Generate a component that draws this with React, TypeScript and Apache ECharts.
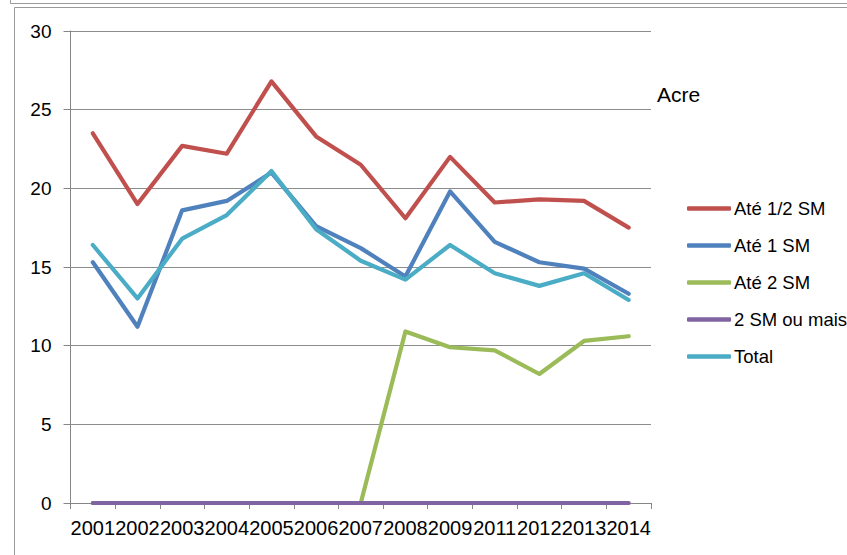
import React, { useEffect, useRef } from "react";
import * as echarts from "echarts";

const years = ["2001", "2002", "2003", "2004", "2005", "2006", "2007", "2008", "2009", "2011", "2012", "2013", "2014"];
const ateMeioSM = [23.5, 19.0, 22.7, 22.2, 26.8, 23.3, 21.5, 18.1, 22.0, 19.1, 19.3, 19.2, 17.5];
const ate1SM = [15.3, 11.2, 18.6, 19.2, 21.0, 17.6, 16.2, 14.4, 19.8, 16.6, 15.3, 14.9, 13.3];
const ate2SM = [0, 0, 0, 0, 0, 0, 0, 10.9, 9.9, 9.7, 8.2, 10.3, 10.6];
const doisSMouMais = [0, 0, 0, 0, 0, 0, 0, 0, 0, 0, 0, 0, 0];
const total = [16.4, 13.0, 16.8, 18.3, 21.1, 17.4, 15.4, 14.2, 16.4, 14.6, 13.8, 14.6, 12.9];

const seriesNames = ["Até 1/2 SM", "Até 1 SM", "Até 2 SM", "2 SM ou mais", "Total"];
const seriesColors = ["#C0504D", "#4F81BD", "#9BBB59", "#8064A2", "#4BACC6"];
const seriesData = [ateMeioSM, ate1SM, ate2SM, doisSMouMais, total];

const FONT = "'Liberation Sans', Arial, sans-serif";

export default function App() {
  const ref = useRef<HTMLDivElement>(null);
  useEffect(() => {
    if (!ref.current) return;
    const chart = echarts.init(ref.current, null, { renderer: "svg" });
    chart.setOption({
      animation: false,
      backgroundColor: "#ffffff",
      title: {
        text: "Acre",
        left: 652,
        top: 79,
        textStyle: { fontFamily: FONT, fontSize: 21, fontWeight: "normal", color: "#000" },
      },
      legend: {
        orient: "vertical",
        left: 682,
        top: 194,
        itemWidth: 44,
        itemHeight: 4.5,
        itemGap: 18,
        icon: "roundRect",
        textStyle: { fontFamily: FONT, fontSize: 18.5, color: "#000", padding: [0, 0, 0, -2] },
        data: seriesNames,
      },
      grid: { left: 70.5, right: 196, top: 31, bottom: 52, containLabel: false },
      xAxis: {
        type: "category",
        data: years,
        boundaryGap: true,
        axisLine: { show: true, lineStyle: { color: "#868686", width: 1 } },
        axisTick: { show: true, length: 6, interval: 0, lineStyle: { color: "#868686" } },
        axisLabel: { interval: 0, margin: 15, fontFamily: FONT, fontSize: 20, color: "#000" },
        splitLine: { show: false },
      },
      yAxis: {
        type: "value",
        min: 0,
        max: 30,
        interval: 5,
        axisLine: { show: true, lineStyle: { color: "#868686", width: 1 } },
        axisTick: { show: true, length: 7, lineStyle: { color: "#868686" } },
        axisLabel: { margin: 19, fontFamily: FONT, fontSize: 19, color: "#000" },
        splitLine: { show: true, lineStyle: { color: "#8c8c8c", width: 1 } },
      },
      series: seriesNames.map((name, i) => ({
        name,
        type: "line",
        data: seriesData[i],
        symbol: "none",
        showSymbol: false,
        color: seriesColors[i],
        lineStyle: { color: seriesColors[i], width: 4.2, cap: "round", join: "round" },
        z: i === 3 ? 3 : 2,
      })),
      graphic: [
        { type: "line", shape: { x1: 10.5, y1: 0, x2: 10.5, y2: 3.5 }, style: { stroke: "#9a9a9a", lineWidth: 1 } },
        { type: "line", shape: { x1: 10.5, y1: 3.5, x2: 847, y2: 3.5 }, style: { stroke: "#9a9a9a", lineWidth: 1 } },
        { type: "line", shape: { x1: 14.5, y1: 7.5, x2: 847, y2: 7.5 }, style: { stroke: "#9a9a9a", lineWidth: 1 } },
        { type: "line", shape: { x1: 14.5, y1: 7.5, x2: 14.5, y2: 555 }, style: { stroke: "#9a9a9a", lineWidth: 1 } },
      ],
    });
    return () => chart.dispose();
  }, []);
  return <div ref={ref} style={{ position: "fixed", left: 0, top: 0, width: 847, height: 555 }} />;
}
